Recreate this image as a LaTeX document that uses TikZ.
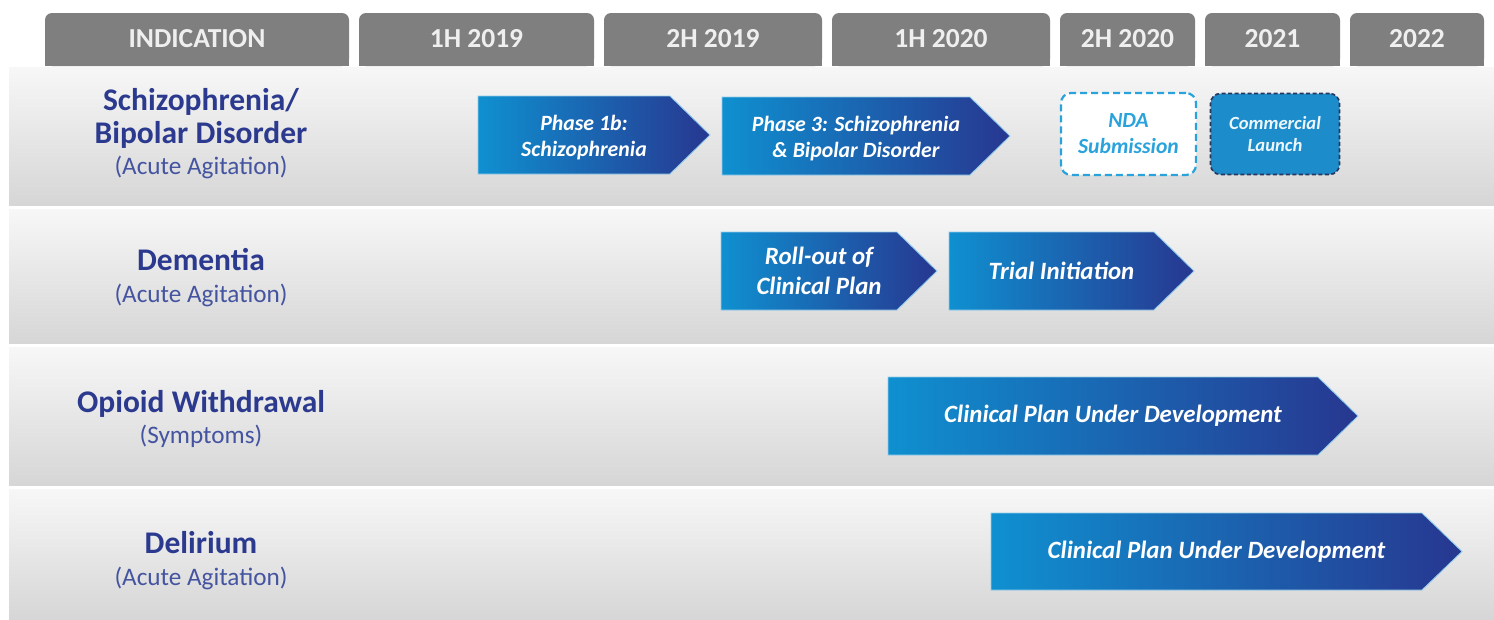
\documentclass[tikz,border=0pt]{standalone}
\usepackage{fontspec}
\setmainfont{Carlito}
\usetikzlibrary{calc}

\definecolor{hdrgray}{HTML}{7F7F7F}
\definecolor{hdrtext}{HTML}{EFEFEF}
\definecolor{lblblue}{HTML}{2B3A8E}
\definecolor{subblue}{HTML}{4454A0}
\definecolor{arrL}{HTML}{0F90D0}
\definecolor{arrR}{HTML}{273790}
\definecolor{ndablue}{HTML}{2AA3DC}
\definecolor{commfill}{HTML}{1C8CCB}
\definecolor{commedge}{HTML}{28365E}
\definecolor{rowtop}{HTML}{F7F7F7}
\definecolor{rowmid}{HTML}{F0F0F0}
\definecolor{rowbot}{HTML}{D6D6D6}

% header tab with rounded top corners only
\newcommand\hdrtab[4]{%
  \fill[hdrgray, rounded corners=7pt] (#2,13) rectangle (#3,66);
  \fill[hdrgray] (#2,40) rectangle (#3,66);
  \node[hdr] (#1) at ({(#2+#3)/2},39) {#4};
}

% chevron bar: [text style] name, x1, x2, ytop, ybot, text
\newcommand\chev[7][]{%
  \shadedraw[left color=arrL, right color=arrR, draw=white!55!arrL, line width=0.9pt]
    (#3,#5) -- ({#4-40},#5) -- (#4,{(#5+#6)/2}) -- ({#4-40},#6) -- (#3,#6) -- cycle;
  \node[arrtxt,#1] (#2) at ({(#3+#4-20)/2},{(#5+#6)/2}) {#7};
}

\begin{document}
\begin{tikzpicture}[x=1pt,y=-1pt,
  hdr/.style={font=\fontsize{27.5}{27.5}\selectfont\bfseries, text=hdrtext},
  lbl/.style={font=\fontsize{31.5}{31.5}\selectfont\bfseries, text=lblblue, anchor=base},
  sublbl/.style={font=\fontsize{25.2}{25.2}\selectfont, text=subblue, anchor=base},
  arrtxt/.style={font=\fontsize{24.9}{30}\selectfont\bfseries\itshape, text=white, align=center},
  arrsmall/.style={font=\fontsize{21.8}{26}\selectfont\bfseries\itshape, yshift=-2.5pt},
]
\useasboundingbox (0,0) rectangle (1494,619);
\fill[white] (0,0) rectangle (1494,619);

% row bands
\foreach \t/\b in {67/205,209/343,347/485,489/619}
  \shade[top color=rowtop, middle color=rowmid, bottom color=rowbot] (9,\t) rectangle (1494,\b);

% header tabs
\hdrtab{hInd}{45}{349}{INDICATION}
\hdrtab{hA}{359}{594}{1H 2019}
\hdrtab{hB}{604}{822}{2H 2019}
\hdrtab{hC}{832}{1050}{1H 2020}
\hdrtab{hD}{1060}{1195}{2H 2020}
\hdrtab{hE}{1205}{1340}{2021}
\hdrtab{hF}{1350}{1484}{2022}

% indication labels
\node[lbl] (l1a) at (201,110) {Schizophrenia/};
\node[lbl] (l1b) at (201,143) {Bipolar Disorder};
\node[sublbl] (l1c) at (201,174) {(Acute Agitation)};
\node[lbl] (l2a) at (201,270) {Dementia};
\node[sublbl] (l2b) at (201,302) {(Acute Agitation)};
\node[lbl] (l3a) at (201,412) {Opioid Withdrawal};
\node[sublbl] (l3b) at (201,443) {(Symptoms)};
\node[lbl] (l4a) at (201,553) {Delirium};
\node[sublbl] (l4b) at (201,585) {(Acute Agitation)};

% row 1
\chev[arrsmall]{p1b}{478}{710}{96}{174}{Phase 1b:\\Schizophrenia}
\chev[arrsmall]{p3}{722}{1010}{97}{175}{Phase 3: Schizophrenia\\\& Bipolar Disorder}
\node[draw=ndablue, dash pattern=on 7pt off 4pt, line width=2.2pt, rounded corners=10pt,
      fill=white, minimum width=135pt, minimum height=82pt, align=center,
      font=\fontsize{21.6}{26}\selectfont\bfseries\itshape, text=ndablue]
      (nda) at (1128.5,134) {NDA\\Submission};
\node[draw=commedge, dash pattern=on 4pt off 2.5pt, line width=1.6pt, rounded corners=10pt,
      fill=commfill, minimum width=129pt, minimum height=81pt, align=center,
      font=\fontsize{18.6}{22}\selectfont\bfseries\itshape, text=white!92!commfill]
      (launch) at (1275,134) {Commercial\\Launch};

% row 2
\chev{roll}{721}{937}{232}{310}{Roll-out of\\Clinical Plan}
\chev{trial}{949}{1194}{232}{310}{Trial Initiation}

% row 3
\chev{opioid}{888}{1358}{377}{455}{Clinical Plan Under Development}

% row 4
\chev{delir}{991}{1462}{513}{590}{Clinical Plan Under Development}
\end{tikzpicture}
\end{document}
